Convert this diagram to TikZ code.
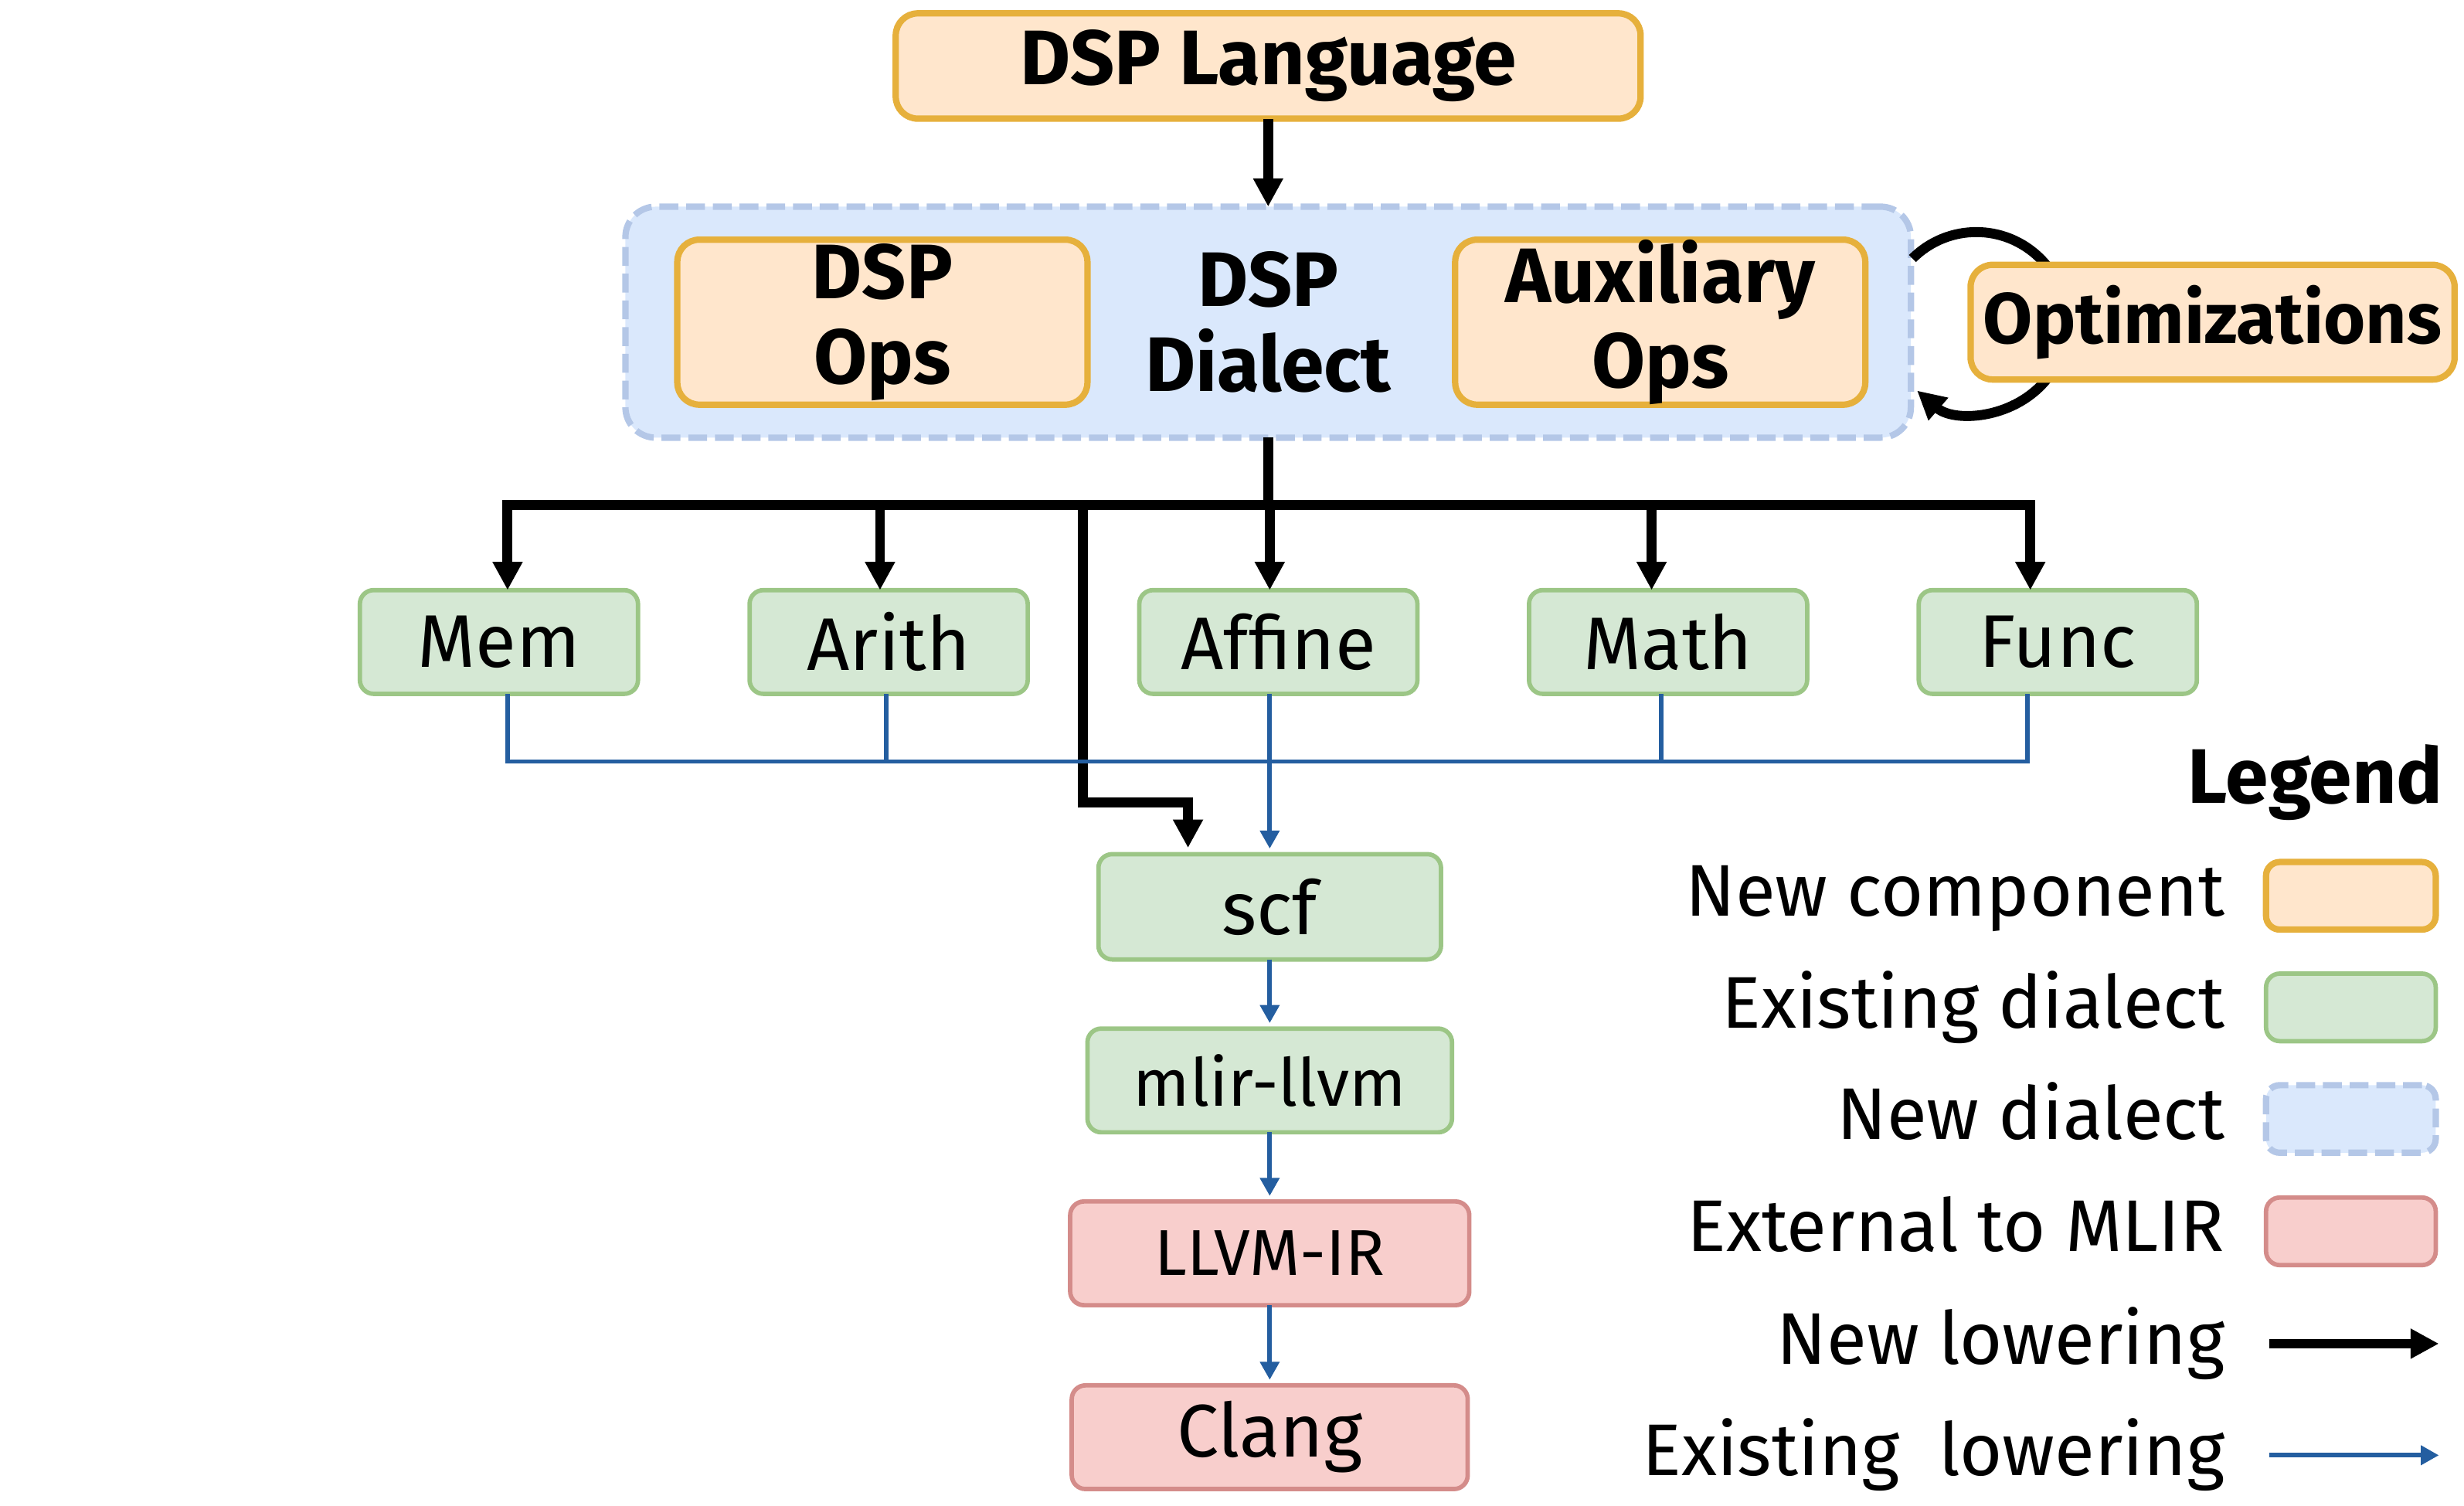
\documentclass[tikz,border=0pt]{standalone}
\usepackage{fontspec}
\setmainfont{Fira Sans}
\usetikzlibrary{positioning,arrows.meta,calc}
\definecolor{ncfill}{RGB}{255,230,204}
\definecolor{ncdraw}{RGB}{230,176,60}
\definecolor{exfill}{RGB}{213,232,212}
\definecolor{exdraw}{RGB}{156,198,134}
\definecolor{ndfill}{RGB}{218,232,252}
\definecolor{nddraw}{RGB}{180,199,231}
\definecolor{etfill}{RGB}{248,206,204}
\definecolor{etdraw}{RGB}{212,140,138}
\definecolor{lowblue}{RGB}{36,94,160}
\newcommand{\boxfont}{\fontsize{27}{30.7}\selectfont}
\newcommand{\boldfont}{\fontsize{28}{30.7}\selectfont\bfseries}
\tikzset{
  wbox/.style={rectangle, rounded corners=5pt, draw, align=center, inner sep=0pt, outer sep=0pt,
               line width=1.6pt, font=\boxfont},
  newcomp/.style={wbox, fill=ncfill, draw=ncdraw, line width=2.3pt, rounded corners=8pt,
                  font=\boldfont},
  exdial/.style={wbox, fill=exfill, draw=exdraw, minimum width=3.54cm, minimum height=1.32cm},
  extern/.style={wbox, fill=etfill, draw=etdraw, minimum height=1.32cm},
  newdial/.style={wbox, fill=ndfill, draw=nddraw, line width=2.3pt, rounded corners=11pt,
                  dash pattern=on 0.24cm off 0.1cm, font=\boldfont},
  swatch/.style={minimum width=2.16cm, minimum height=0.86cm},
  legtxt/.style={font=\fontsize{26.5}{30}\selectfont, inner sep=0pt, text height=0.72cm, text depth=0.2cm},
  newlow/.style={-{Triangle[length=0.36cm, width=0.36cm]}, line width=3.6pt, draw=black},
  oldline/.style={line width=1.6pt, draw=lowblue},
  oldlow/.style={oldline, -{Triangle[length=0.23cm, width=0.24cm]}, shorten >=2pt},
}
\begin{document}
\begin{tikzpicture}
  \useasboundingbox (0,0) rectangle (31.36,-19.16);
  % top of the flow
  \node[newcomp, minimum width=9.48cm, minimum height=1.34cm] (lang) at (16.14,-0.84) {DSP Language};
  \node[newdial, below=1.12cm of lang, minimum width=16.36cm, minimum height=2.94cm] (dial) {DSP\\Dialect};
  \node[newcomp, right=0.66cm of dial.west, minimum width=5.22cm, minimum height=2.1cm] (dspops) {DSP\\Ops};
  \node[newcomp, left=0.58cm of dial.east, minimum width=5.22cm, minimum height=2.1cm] (auxops) {Auxiliary\\Ops};
  \draw[newlow] (lang.south) -- (lang.south |- dial.north);
  \draw[newlow] ([shift={(0.02cm,0.81cm)}]dial.east) arc[start angle=135, end angle=-131, radius=1.15cm];
  \node[newcomp, right=0.76cm of dial.east, minimum width=6.16cm, minimum height=1.46cm,
        font=\fontsize{26}{30}\selectfont\bfseries] (opt) {Optimizations};

  % existing dialects
  \node[exdial, below=1.94cm of dial, xshift=0.13cm] (affine) {Affine};
  \node[exdial, left=1.42cm of affine] (arith) {Arith};
  \node[exdial, left=1.42cm of arith] (mem) {Mem};
  \node[exdial, right=1.42cm of affine] (math) {Math};
  \node[exdial, right=1.42cm of math] (func) {Func};

  \node[exdial, below=2.04cm of affine, xshift=-0.11cm, minimum width=4.36cm, minimum height=1.34cm] (scf) {scf};
  \node[exdial, below=0.88cm of scf, minimum width=4.64cm, font=\fontsize{24}{28}\selectfont] (mlir) {mlir-llvm};
  \node[extern, below=0.88cm of mlir, minimum width=5.08cm, font=\fontsize{23.5}{28}\selectfont] (llvmir) {LLVM-IR};
  \node[extern, below=1.02cm of llvmir, minimum width=5.04cm] (clang) {Clang};

  % new lowerings
  \coordinate (bus) at ([yshift=-0.86cm]dial.south);
  \draw[newlow] (dial.south) -- (bus) -| ([xshift=0.11cm]mem.north);
  \draw[newlow] (bus) -| ([xshift=-0.11cm]arith.north);
  \draw[newlow] (bus) -| ([xshift=-0.11cm]affine.north);
  \draw[newlow] (bus) -| ([xshift=-0.21cm]math.north);
  \draw[newlow] (bus) -| ([xshift=-0.35cm]func.north);
  \draw[newlow] ([xshift=-2.36cm]bus) |- ([xshift=-1.04cm, yshift=0.66cm]scf.north)
     -- ([xshift=-1.04cm, yshift=0.08cm]scf.north);

  % existing lowerings
  \coordinate (jn) at ([yshift=-0.86cm]affine.south -| scf.north);
  \draw[oldline] ([xshift=0.11cm]mem.south) |- (jn);
  \draw[oldline] ([xshift=-0.03cm]arith.south) |- (jn);
  \draw[oldline] ([xshift=-0.09cm]math.south) |- (jn);
  \draw[oldline] ([xshift=-0.39cm]func.south) |- (jn);
  \draw[oldlow] (affine.south -| scf.north) -- (scf.north);
  \draw[oldlow] (scf) -- (mlir);
  \draw[oldlow] (mlir) -- (llvmir);
  \draw[oldlow] (llvmir) -- (clang);

  % legend
  \node[font=\boldfont, inner sep=0pt, anchor=base east] (legtitle) at (31.1,-10.22) {Legend};
  \node[newcomp, swatch, rounded corners=5pt] (sw1) at (29.92,-11.4) {};
  \node[exdial, swatch] (sw2) at (29.92,-12.82) {};
  \node[newdial, swatch, rounded corners=5pt] (sw3) at (29.92,-14.24) {};
  \node[extern, swatch] (sw4) at (29.92,-15.67) {};
  \coordinate (a5) at (28.88,-17.1);  \coordinate (b5) at (31.04,-17.1);
  \coordinate (a6) at (28.88,-18.52); \coordinate (b6) at (31.04,-18.52);
  \node[legtxt, left=0.52cm of sw1] (lg1) {New component};
  \node[legtxt, left=0.52cm of sw2] (lg2) {Existing dialect};
  \node[legtxt, left=0.52cm of sw3] (lg3) {New dialect};
  \node[legtxt, left=0.52cm of sw4] (lg4) {External to MLIR};
  \node[legtxt, left=0.56cm of a5] (lg5) {New lowering};
  \node[legtxt, left=0.56cm of a6] (lg6) {Existing\ \ lowering};
  \draw[newlow] (a5) -- (b5);
  \draw[oldlow, shorten >=0pt] (a6) -- (b6);
\end{tikzpicture}
\end{document}
